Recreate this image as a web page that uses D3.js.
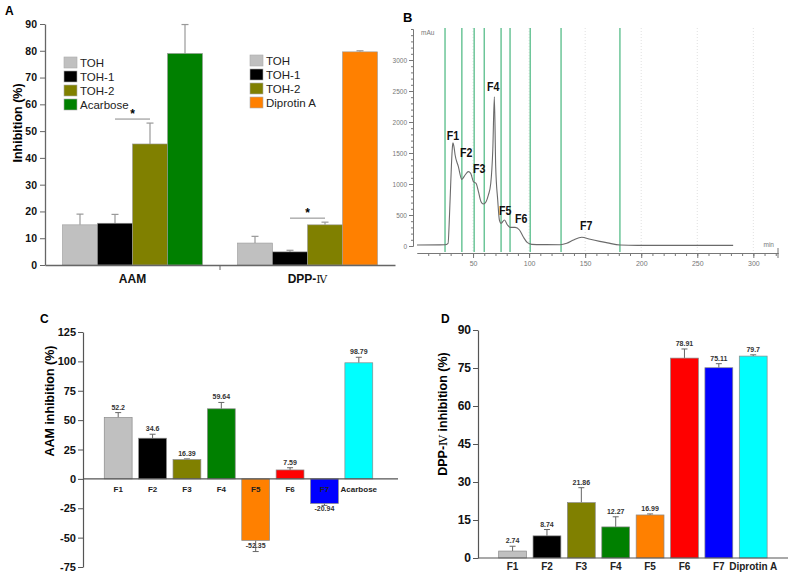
<!DOCTYPE html>
<html><head><meta charset="utf-8">
<script src="https://cdn.jsdelivr.net/npm/d3@7"></script>
<style>body{margin:0;background:#fff} svg{display:block;font-family:"Liberation Sans",Arial,sans-serif}</style>
</head><body><svg id="c" width="790" height="575"></svg>
<script>
// ---------- Panel A data ----------
const aCategories = ["AAM", "DPP-Ⅳ"];
const aSeriesAAM = ["TOH", "TOH-1", "TOH-2", "Acarbose"];
const aSeriesDPP = ["TOH", "TOH-1", "TOH-2", "Diprotin A"];
const aValuesAAM = [15.0, 15.6, 45.2, 79.0];
const aErrorsAAM = [4.0, 3.3, 7.8, 10.8];
const aValuesDPP = [8.2, 4.9, 15.0, 79.6];
const aErrorsDPP = [2.5, 0.6, 1.0, 0.4];
const aTicks = [0, 10, 20, 30, 40, 50, 60, 70, 80, 90];
const aSigLevel = [54.5, 17.5];

// ---------- Panel B data ----------
const bTimes  = [0, 20, 25, 27.7, 29, 30.7, 31.6, 32, 33, 34, 36.9, 39.9, 42.9, 45.8, 47.9, 50.3, 52.7, 54.8, 57.1, 59.2, 61.6, 63.7, 65.8, 67.6, 69, 70.2, 72, 73.5, 75, 78, 80.7, 83, 87.5, 91.4, 95, 98.5, 102.4, 115, 127.7, 133.6, 139.6, 147, 154.5, 163, 170, 181, 197, 240, 282];
const bSignal = [16, 18, 20, 43, 500, 1300, 1600, 1665, 1600, 1468, 1280, 1075, 1145, 1200, 1172, 1038, 1011, 876, 715, 677, 715, 823, 1011, 1548, 2405, 1280, 742, 419, 366, 419, 339, 301, 301, 258, 140, 54, 27, 22, 20, 43, 97, 140, 108, 75, 50, 16, 10, 10, 10];
const bFractionCuts = [25, 40, 51, 60, 75, 83, 101, 128.5, 181];
const bPeakNames = ["F1", "F2", "F3", "F4", "F5", "F6", "F7"];
const bPeakLabelTime = [32, 43.8, 55.4, 67.9, 78.6, 92.9, 150.9];
const bPeakLabelLevel = [1790, 1516, 1258, 2581, 581, 452, 339];
const bYMajor = [0, 500, 1000, 1500, 2000, 2500, 3000];
const bXMajor = [50, 100, 150, 200, 250, 300];

// ---------- Panel C data ----------
const cCategories = ["F1", "F2", "F3", "F4", "F5", "F6", "F7", "Acarbose"];
const cValues = [52.2, 34.6, 16.39, 59.64, -52.35, 7.59, -20.94, 98.79];
const cErrors = [4.2, 3.4, 0.6, 5.4, 9.5, 1.9, 1.6, 4.7];
const cLabels = ["52.2", "34.6", "16.39", "59.64", "-52.35", "7.59", "-20.94", "98.79"];
const cTicks = [-75, -50, -25, 0, 25, 50, 75, 100, 125];

// ---------- Panel D data ----------
const dCategories = ["F1", "F2", "F3", "F4", "F5", "F6", "F7", "Diprotin A"];
const dValues = [2.74, 8.74, 21.86, 12.27, 16.99, 78.91, 75.11, 79.7];
const dErrors = [1.9, 2.5, 5.9, 4.0, 0.4, 3.6, 1.6, 0.5];
const dLabels = ["2.74", "8.74", "21.86", "12.27", "16.99", "78.91", "75.11", "79.7"];
const dTicks = [0, 15, 30, 45, 60, 75, 90];

const colTOH = {"TOH": "#c0c0c0", "TOH-1": "#000000", "TOH-2": "#808000", "Acarbose": "#008000", "Diprotin A": "#ff8000"};
const fracColors = ["#c0c0c0", "#000000", "#808000", "#008000", "#ff8000", "#ff0000", "#0000ff", "#00ffff"];
const plain = d => String(d);

const svg = d3.select("#c");

function styleAxis(g, size, color, weight) {
  g.selectAll("path,line").attr("stroke", color);
  g.selectAll("text").attr("font-size", size).attr("font-weight", weight).attr("fill", "#111")
    .attr("font-family", '"Liberation Sans",Arial,sans-serif');
}

// ================= Panel A =================
(function () {
  const yA = d3.scaleLinear().domain([0, 90]).range([265, 24]);
  const xA = d3.scaleBand().domain(aCategories).range([45, 395]);
  const xIn = d3.scaleBand().domain([0, 1, 2, 3]).range([0, 140]);
  const g = svg.append("g");
  const groups = [
    {cat: aCategories[0], series: aSeriesAAM, vals: aValuesAAM, errs: aErrorsAAM},
    {cat: aCategories[1], series: aSeriesDPP, vals: aValuesDPP, errs: aErrorsDPP}
  ];
  groups.forEach((grp, gi) => {
    const x0 = xA(grp.cat) + xA.bandwidth() / 2 - 70;
    grp.series.forEach((s, j) => {
      const x = x0 + xIn(j), w = xIn.bandwidth();
      const v = grp.vals[j], e = grp.errs[j];
      g.append("line").attr("x1", x + w / 2).attr("x2", x + w / 2)
        .attr("y1", yA(v)).attr("y2", yA(v + e)).attr("stroke", "#999").attr("stroke-width", 1.2);
      g.append("line").attr("x1", x + w / 2 - 3.5).attr("x2", x + w / 2 + 3.5)
        .attr("y1", yA(v + e)).attr("y2", yA(v + e)).attr("stroke", "#999").attr("stroke-width", 1.2);
      g.append("rect").attr("x", x).attr("width", w).attr("y", yA(v)).attr("height", yA(0) - yA(v))
        .attr("fill", colTOH[s]).attr("stroke", "#9a9a9a").attr("stroke-width", 0.6);
    });
    const sx1 = x0 + xIn(1) + xIn.bandwidth() / 2, sx2 = x0 + xIn(2) + xIn.bandwidth() / 2;
    g.append("line").attr("x1", sx1).attr("x2", sx2).attr("y1", yA(aSigLevel[gi])).attr("y2", yA(aSigLevel[gi]))
      .attr("stroke", "#888").attr("stroke-width", 1);
    g.append("text").attr("x", (sx1 + sx2) / 2).attr("y", yA(aSigLevel[gi]) - 1).attr("text-anchor", "middle")
      .attr("font-size", 12).attr("font-weight", "bold").text("*");
  });
  const ay = g.append("g").attr("transform", "translate(45,0)")
    .call(d3.axisLeft(yA).tickValues(aTicks).tickSize(5).tickSizeOuter(0).tickPadding(3).tickFormat(plain));
  styleAxis(ay, 10.5, "#666", "bold");
  ay.select(".domain").attr("stroke-width", 1.3);
  const ax = g.append("g").attr("transform", "translate(0,265)")
    .call(d3.axisBottom(xA).tickSize(0).tickSizeOuter(0).tickPadding(9));
  styleAxis(ax, 12, "#666", "bold");
  ax.select(".domain").attr("stroke-width", 1.3);
  ax.selectAll(".tick text").each(function (d) {
    if (d.indexOf("Ⅳ") >= 0) {
      const t = d3.select(this); t.text(null);
      t.append("tspan").text("DPP-");
      t.append("tspan").attr("font-weight", "normal").attr("font-family", '"DejaVu Serif",serif').attr("font-size", 11).text("Ⅳ");
    }
  });
  g.append("line").attr("x1", xA(aCategories[1])).attr("x2", xA(aCategories[1])).attr("y1", 265).attr("y2", 270)
    .attr("stroke", "#666");
  g.append("text").attr("transform", "translate(22,123) rotate(-90)").attr("text-anchor", "middle")
    .attr("font-size", 12.5).attr("font-weight", "bold").text("Inhibition (%)");
  g.append("text").attr("x", 5).attr("y", 15).attr("font-size", 12).attr("font-weight", "bold").text("A");
  function legend(series, x, y) {
    series.forEach((s, i) => {
      g.append("rect").attr("x", x).attr("y", y + i * 14).attr("width", 13).attr("height", 11)
        .attr("fill", colTOH[s]).attr("stroke", "#aaa").attr("stroke-width", 0.6);
      g.append("text").attr("x", x + 16).attr("y", y + i * 14 + 10).attr("font-size", 11.5).attr("fill", "#222").text(s);
    });
  }
  legend(aSeriesAAM, 64, 57);
  legend(aSeriesDPP, 250, 55);
})();

// ================= Panel B =================
(function () {
  const xB = d3.scaleLinear().domain([0, 322]).range([417, 778]);
  const yB = d3.scaleLinear().domain([0, 3500]).range([246, 29]);
  const g = svg.append("g");
  const gridTop = yB(3500) - 1, gridBot = 252;
  bXMajor.forEach(t => {
    g.append("line").attr("x1", xB(t)).attr("x2", xB(t)).attr("y1", gridTop).attr("y2", gridBot)
      .attr("stroke", "#d8d8d8").attr("stroke-dasharray", "1,2").attr("stroke-width", 0.8);
  });
  bFractionCuts.forEach(t => {
    g.append("line").attr("x1", xB(t)).attr("x2", xB(t)).attr("y1", gridTop).attr("y2", gridBot)
      .attr("stroke", "#6cc598").attr("stroke-width", 1.5);
  });
  const pts = bTimes.map((t, i) => [t, bSignal[i]]);
  g.append("path").datum(pts)
    .attr("d", d3.line().x(d => xB(d[0])).y(d => yB(d[1])).curve(d3.curveMonotoneX))
    .attr("fill", "none").attr("stroke", "#6a6a6a").attr("stroke-width", 1.1);
  bPeakNames.forEach((n, i) => {
    const px = xB(bPeakLabelTime[i]);
    g.append("text").attr("x", px).attr("y", yB(bPeakLabelLevel[i]) + 5)
      .attr("text-anchor", "middle").attr("font-size", 12.5).attr("font-weight", "bold")
      .attr("transform", `translate(${px},0) scale(0.85,1) translate(${-px},0)`)
      .attr("fill", "#111").text(n);
  });
  const yMinor = g.append("g").attr("transform", "translate(413,0)")
    .call(d3.axisLeft(yB).tickValues(d3.range(0, 3501, 100)).tickSize(2).tickSizeOuter(0).tickFormat(""));
  yMinor.selectAll("path,line").attr("stroke", "#777");
  const yMaj = g.append("g").attr("transform", "translate(413,0)")
    .call(d3.axisLeft(yB).tickValues(bYMajor).tickSize(4).tickSizeOuter(0).tickPadding(2).tickFormat(plain));
  styleAxis(yMaj, 6.5, "#777", "normal");
  yMaj.selectAll("text").attr("fill", "#777");
  const xMinor = g.append("g").attr("transform", "translate(0,253)")
    .call(d3.axisBottom(xB).tickValues(d3.range(10, 321, 10)).tickSize(3).tickSizeOuter(0).tickFormat(""));
  xMinor.selectAll("path,line").attr("stroke", "#777");
  const xMaj = g.append("g").attr("transform", "translate(0,253)")
    .call(d3.axisBottom(xB).tickValues(bXMajor).tickSize(5).tickSizeOuter(0).tickPadding(3).tickFormat(plain));
  styleAxis(xMaj, 7, "#777", "normal");
  xMaj.selectAll("text").attr("fill", "#777");
  g.append("line").attr("x1", xB(322)).attr("x2", xB(322)).attr("y1", 248).attr("y2", 258).attr("stroke", "#777");
  g.append("text").attr("x", 421).attr("y", yB(3500) + 6).attr("font-size", 6.5).attr("fill", "#777").text("mAu");
  g.append("text").attr("x", xB(322) - 4).attr("y", 247).attr("text-anchor", "end").attr("font-size", 6.5).attr("fill", "#777").text("min");
  g.append("text").attr("x", 403).attr("y", 22).attr("font-size", 13).attr("font-weight", "bold").text("B");
})();

// ================= Bar panels C & D =================
function barPanel(o) {
  const g = svg.append("g");
  const y = d3.scaleLinear().domain(o.domain).range(o.yRange);
  const x = d3.scaleBand().domain(o.cats).range(o.xRange).paddingInner(0.19).paddingOuter(0.095);
  o.vals.forEach((v, i) => {
    const bx = x(o.cats[i]), w = x.bandwidth(), cx = bx + w / 2;
    const e = o.errs[i] * (v < 0 ? -1 : 1);
    g.append("line").attr("x1", cx).attr("x2", cx).attr("y1", y(v)).attr("y2", y(v + e)).attr("stroke", "#666").attr("stroke-width", 1);
    g.append("line").attr("x1", cx - 3).attr("x2", cx + 3).attr("y1", y(v + e)).attr("y2", y(v + e)).attr("stroke", "#666").attr("stroke-width", 1);
    g.append("rect").attr("x", bx).attr("width", w).attr("y", Math.min(y(v), y(0)))
      .attr("height", Math.abs(y(v) - y(0))).attr("fill", fracColors[i]).attr("stroke", "#8a8a8a").attr("stroke-width", 0.7);
    const ly = v >= 0 ? y(v + e) - 3 : y(v) + 8;
    g.append("text").attr("x", cx).attr("y", ly).attr("text-anchor", "middle").attr("font-size", 7)
      .attr("font-weight", "bold").attr("fill", "#333").text(o.labels[i]);
  });
  const ay = g.append("g").attr("transform", `translate(${o.axisX},0)`)
    .call(d3.axisLeft(y).tickValues(o.ticks).tickSize(5).tickSizeOuter(0).tickPadding(2).tickFormat(plain));
  styleAxis(ay, o.tickFont, "#555", "bold");
  ay.select(".domain").attr("stroke-width", 1.2);
  const ax = g.append("g").attr("transform", `translate(0,${y(0)})`)
    .call(d3.axisBottom(x).tickSize(0).tickSizeOuter(0).tickPadding(o.catPad));
  ax.select(".domain").attr("d", `M${o.axisX},0H${o.axisEnd}`).attr("stroke", "#555").attr("stroke-width", 1.2);
  styleAxis(ax, o.catFont, "#555", "bold");
  ax.selectAll("text").attr("fill", "#222");
  const yl = g.append("text").attr("transform", `translate(${o.labelX},${o.labelY}) rotate(-90)`).attr("text-anchor", "middle")
    .attr("font-size", 12.5).attr("font-weight", "bold");
  if (o.title.indexOf("Ⅳ") >= 0) {
    const parts = o.title.split("Ⅳ");
    yl.append("tspan").text(parts[0]);
    yl.append("tspan").attr("font-weight", "normal").attr("font-family", '"DejaVu Serif",serif').attr("font-size", 11).text("Ⅳ");
    yl.append("tspan").text(parts[1]);
  } else yl.text(o.title);
  g.append("text").attr("x", o.letterX).attr("y", 323).attr("font-size", 12).attr("font-weight", "bold").text(o.letter);
}

barPanel({cats: cCategories, vals: cValues, errs: cErrors, labels: cLabels, ticks: cTicks,
  domain: [-75, 125], yRange: [567, 332], xRange: [101, 376], axisX: 83, axisEnd: 398,
  tickFont: 11, catFont: 8, catPad: 7, title: "AAM inhibition (%)", labelX: 54, labelY: 401,
  letter: "C", letterX: 40});

barPanel({cats: dCategories, vals: dValues, errs: dErrors, labels: dLabels, ticks: dTicks,
  domain: [0, 90], yRange: [558, 330], xRange: [495.4, 770.4], axisX: 478, axisEnd: 788,
  tickFont: 12, catFont: 10, catPad: 5, title: "DPP-Ⅳ inhibition (%)", labelX: 447, labelY: 414,
  letter: "D", letterX: 441});
</script></body></html>
